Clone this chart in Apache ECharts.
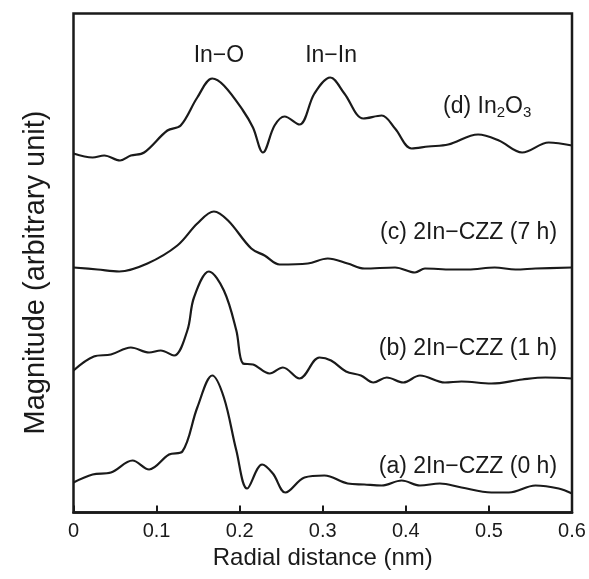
<!DOCTYPE html>
<html>
<head>
<meta charset="utf-8">
<script src="https://cdn.jsdelivr.net/npm/echarts@6/dist/echarts.min.js"></script>
<style>
  html, body { margin: 0; padding: 0; background: #fff; }
  #main { width: 589px; height: 579px; }
</style>
</head>
<body>
<div id="main"></div>
<script>
// radial distance (nm), magnitude (arb. unit, curves already offset)
var curveA = [[0,3.0],[0.023,3.8],[0.045,4.0],[0.071,5.2],[0.091,4.3],[0.115,5.8],[0.131,6.1],[0.149,10.5],[0.167,13.7],[0.181,11.5],[0.196,6.2],[0.209,2.4],[0.227,4.8],[0.240,3.9],[0.255,2.0],[0.278,3.5],[0.302,3.7],[0.330,2.9],[0.350,2.8],[0.371,2.7],[0.395,3.2],[0.417,2.7],[0.441,2.9],[0.467,2.5],[0.503,2.0],[0.524,2.0],[0.556,2.7],[0.584,2.4],[0.6,1.9]];
var curveB = [[0,14.2],[0.0245,15.6],[0.045,15.8],[0.069,16.5],[0.091,16.0],[0.105,16.2],[0.121,15.7],[0.137,18.2],[0.145,21.5],[0.163,24.1],[0.181,22.2],[0.196,18.2],[0.204,14.9],[0.216,14.8],[0.236,13.9],[0.252,14.5],[0.272,13.4],[0.296,15.5],[0.310,15.2],[0.328,14.1],[0.346,13.7],[0.361,13.0],[0.377,13.5],[0.397,13.0],[0.417,13.7],[0.447,13.0],[0.467,13.1],[0.503,12.9],[0.540,13.3],[0.568,13.5],[0.6,13.4]];
var curveC = [[0,24.5],[0.029,24.3],[0.055,24.1],[0.089,24.9],[0.125,26.7],[0.149,28.9],[0.169,30.1],[0.186,29.2],[0.214,26.4],[0.230,25.7],[0.248,24.8],[0.282,24.9],[0.306,25.4],[0.330,24.9],[0.350,24.4],[0.387,24.5],[0.411,24.0],[0.423,24.4],[0.455,24.3],[0.475,24.3],[0.507,24.5],[0.532,24.3],[0.556,24.4],[0.6,24.5]];
var curveD = [[0,35.9],[0.023,35.5],[0.037,35.7],[0.056,35.2],[0.069,35.7],[0.085,36.0],[0.113,38.2],[0.129,38.7],[0.149,41.5],[0.167,43.4],[0.181,42.7],[0.204,40.2],[0.216,38.5],[0.228,36.0],[0.242,38.7],[0.254,39.6],[0.272,38.8],[0.290,41.9],[0.309,43.5],[0.326,41.9],[0.349,39.4],[0.371,39.7],[0.387,38.4],[0.407,36.4],[0.427,36.6],[0.451,36.8],[0.487,37.8],[0.512,37.2],[0.540,36.0],[0.572,37.0],[0.6,36.7]];

// text annotations: x, y, text, align
var notes = [
  [0.175, 45.7, 'In\u2212O', 'center'],
  [0.310, 45.7, 'In\u2212In', 'center'],
  [0.551, 40.6, '(d) In{s|2}O{s|3}', 'right'],
  [0.582, 28.0, '(c) 2In\u2212CZZ (7 h)', 'right'],
  [0.582, 16.4, '(b) 2In\u2212CZZ (1 h)', 'right'],
  [0.582, 4.6, '(a) 2In\u2212CZZ (0 h)', 'right']
];

var chart = echarts.init(document.getElementById('main'));
var font = '"Liberation Sans", Arial, sans-serif';
var ink = '#1a1a1a';

function lineSeries(name, data) {
  return {
    name: name,
    type: 'line',
    data: data,
    smooth: 0.35,
    showSymbol: false,
    lineStyle: { color: ink, width: 2.2 }
  };
}

var option = {
  animation: false,
  textStyle: { fontFamily: font },
  grid: {
    left: 73.5, right: 17, top: 13.5, bottom: 66.5,
    show: true, borderColor: ink, borderWidth: 2.5
  },
  xAxis: {
    type: 'value',
    min: 0, max: 0.6, interval: 0.1,
    name: 'Radial distance (nm)',
    nameLocation: 'middle',
    nameGap: 32,
    nameTextStyle: { fontSize: 24, color: ink, fontFamily: font },
    axisLine: { lineStyle: { color: ink, width: 2.5 } },
    axisTick: { inside: true, length: 7, lineStyle: { color: ink, width: 2 } },
    axisLabel: { fontSize: 20, color: ink, margin: 9, fontFamily: font },
    splitLine: { show: false }
  },
  yAxis: {
    type: 'value',
    min: 0, max: 49.9,
    name: 'Magnitude (arbitrary unit)',
    nameLocation: 'middle',
    nameGap: 23,
    nameTextStyle: { fontSize: 29, color: ink, fontFamily: font, padding: [0, 19, 0, 0] },
    axisLine: { show: false },
    axisTick: { show: false },
    axisLabel: { show: false },
    splitLine: { show: false }
  },
  series: [
    lineSeries('a', curveA),
    lineSeries('b', curveB),
    lineSeries('c', curveC),
    lineSeries('d', curveD),
    {
      type: 'scatter',
      symbolSize: 0,
      silent: true,
      itemStyle: { opacity: 1 },
      data: notes.map(function (n) {
        return {
          value: [n[0], n[1]],
          label: {
            show: true,
            position: [0, 0],
            align: n[3],
            verticalAlign: 'middle',
            fontSize: 23,
            color: ink,
            opacity: 1,
            fontFamily: font,
            formatter: n[2],
            rich: {
              s: { fontSize: 15, padding: [12, 0, 0, 0], color: ink, fontFamily: font }
            }
          }
        };
      })
    }
  ]
};

chart.setOption(option);
</script>
</body>
</html>
